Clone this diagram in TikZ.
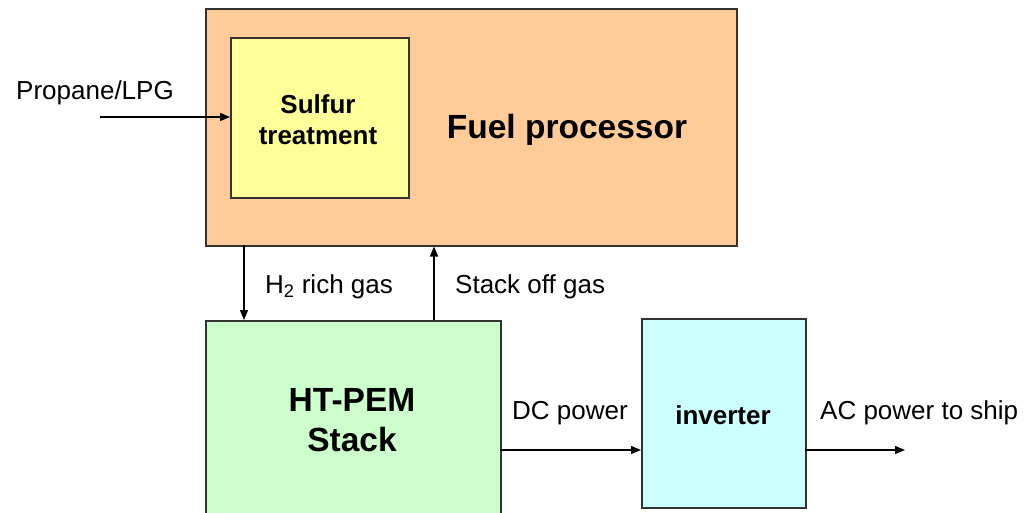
\documentclass[tikz,border=0pt]{standalone}
\usepackage{fontspec}
\setmainfont{Liberation Sans}
\usetikzlibrary{arrows.meta}
\definecolor{fpor}{HTML}{FFCC99}
\definecolor{sulf}{HTML}{FFFF99}
\definecolor{stk}{HTML}{CCFFCC}
\definecolor{inv}{HTML}{CCFFFF}
\definecolor{edge}{HTML}{333333}
\tikzset{
  blockbox/.style={draw=edge, line width=1.5pt, inner sep=0pt, anchor=north west},
  flow/.style={draw=black, line width=1.3pt, -{Triangle[length=10pt,width=8pt]}},
  lbl/.style={font=\fontsize{26}{30}\selectfont, inner sep=0pt},
  boldbig/.style={font=\bfseries\fontsize{33.5}{40}\selectfont, align=center, inner sep=0pt},
  boldsmall/.style={font=\bfseries\fontsize{26}{31}\selectfont, align=center, inner sep=0pt}
}
\begin{document}
\begin{tikzpicture}[x=1pt,y=-1pt]
\useasboundingbox (0,0) rectangle (1025,512);
\clip (0,0) rectangle (1025,512);
% boxes
\node[blockbox, fill=fpor, minimum width=531pt, minimum height=237pt] (fp) at (205,8) {};
\node[blockbox, fill=sulf, minimum width=178pt, minimum height=160pt] (sf) at (230,37) {};
\node[blockbox, fill=stk, minimum width=295pt, minimum height=200pt] (st) at (205,320) {};
\node[blockbox, fill=inv, minimum width=164pt, minimum height=189pt] (iv) at (641,318) {};
% box texts
\node[boldbig] (fpt) at (567,130) {Fuel processor};
\node[boldsmall] (sft) at (318,120) {Sulfur\\treatment};
\node[boldbig] (stt) at (352,420) {HT-PEM\\Stack};
\node[boldsmall] (ivt) at (723,415) {inverter};
% coordinates
\coordinate (pin) at (100,117);
\coordinate (acout) at (905,450);
% connectors
\draw[flow] (pin) -- (pin -| sf.west);
\draw[flow] (244,245) coordinate (h2a) -- (h2a |- st.north);
\draw[flow] (434,320) coordinate (oga) -- (oga |- fp.south);
\draw[flow] (500,450) coordinate (dca) -- (dca -| iv.west);
\draw[flow] (805,450) coordinate (aca) -- (acout);
% labels
\node[lbl] (l1) at (95,93) {Propane/LPG};
\node[lbl, anchor=west] (l2) at (265,287) {H\textsubscript{2} rich gas};
\node[lbl, anchor=west] (l3) at (455,287) {Stack off gas};
\node[lbl, anchor=west] (l4) at (512,413) {DC power};
\node[lbl, anchor=west] (l5) at (820,413) {AC power to ship};
\end{tikzpicture}
\end{document}
